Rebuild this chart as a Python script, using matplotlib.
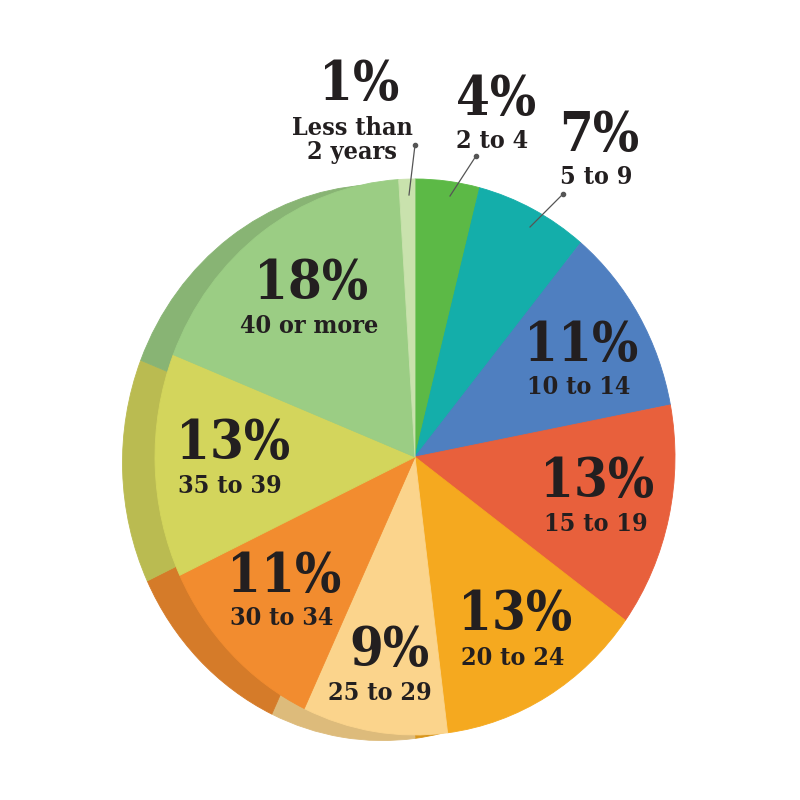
import numpy as np
import matplotlib.pyplot as plt
import matplotlib.colors as mcolors

# shares of teachers by years of experience, clockwise from 12 o'clock
shares = [4, 7, 11, 13, 13, 9, 11, 13, 18, 1]
groups = ['2 to 4', '5 to 9', '10 to 14', '15 to 19', '20 to 24',
          '25 to 29', '30 to 34', '35 to 39', '40 or more', 'Less than\n2 years']
colors = ['#5cb946', '#14aeaa', '#4f7fc0', '#e8603c', '#f5a91f',
          '#fbd48c', '#f28c2f', '#d3d55c', '#9bcd84', '#c9e2ad']

# label placement (pixel coords, y down): percent, group name
pct_pos = [(496, 100), (599, 136), (581, 346), (597, 482), (515, 615),
           (389, 651), (284, 577), (233, 444), (311, 284), (359, 85)]
grp_pos = [(492, 141), (596, 177), (579, 387), (596, 524), (513, 658),
           (380, 693), (282, 618), (230, 486), (309, 326), (352, 140)]
# leader lines for the thin slices at the top
leaders = {0: [(476, 156), (450, 196)],
           1: [(563, 194), (530, 227)],
           9: [(415, 145), (409, 195)]}

W, H = 800, 800
cx, cy, rx, ry = 415, 457, 260, 278
fig = plt.figure(figsize=(8, 8), dpi=100, facecolor='white')

# pie axes: unit circle stretched to the ellipse of the front face
pax = fig.add_axes([0, 0, 1, 1])
shade = [tuple(np.array(mcolors.to_rgb(c)) * 0.88) for c in colors]
back = pax.pie(shares, colors=shade, startangle=90, counterclock=False,
               center=(-0.125, -0.02), radius=1, wedgeprops=dict(linewidth=0.6))
front = pax.pie(shares, colors=colors, startangle=90, counterclock=False,
                center=(0, 0), radius=1, wedgeprops=dict(linewidth=0.6))
for w in back[0] + front[0]:
    w.set_edgecolor(w.get_facecolor())
pax.set_aspect('auto')
pax.set_xlim(-cx / rx, (W - cx) / rx)
pax.set_ylim(-(H - cy) / ry, cy / ry)
pax.axis('off')

# text axes in pixel coordinates
tax = fig.add_axes([0, 0, 1, 1], zorder=3)
tax.set_xlim(0, W)
tax.set_ylim(H, 0)
tax.axis('off')
tax.patch.set_alpha(0)

ink = '#231f20'
font = dict(family=['DejaVu Serif'], weight='bold', stretch='condensed', color=ink)
for i, s in enumerate(shares):
    x, y = pct_pos[i]
    tax.text(x, y, f'{s}%', fontsize=39, ha='center', va='center', **font)
    gx, gy = grp_pos[i]
    tax.text(gx, gy, groups[i], fontsize=18, ha='center', va='center',
             linespacing=0.95, **font)
for i, pts in leaders.items():
    (x0, y0), (x1, y1) = pts
    tax.plot([x0, x1], [y0, y1], color='#555555', lw=0.9)
    tax.plot([x0], [y0], 'o', color='#555555', ms=3)

fig.savefig('out.png', dpi=100, facecolor='white')
